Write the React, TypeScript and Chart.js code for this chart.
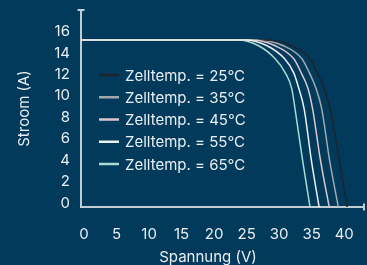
import React, { useEffect, useRef } from 'react';
import { Chart, registerables } from 'chart.js';

Chart.register(...registerables);

// Legend labels / series
const seriesLabels = ['Zelltemp. = 25°C', 'Zelltemp. = 35°C', 'Zelltemp. = 45°C', 'Zelltemp. = 55°C', 'Zelltemp. = 65°C'];
const seriesColors = ['#1d242b', '#a3a8aa', '#dcc7cc', '#eceff0', '#a8dad2'];

// Current levels (A) shared by all curves
const currentA = [15.6, 15.6, 15.6, 15.06, 13.84, 12.53, 11.04, 9.17, 4.4, 0];

// Voltage (V) at each current level, per cell temperature
const voltage25 = [0, 18, 28.3, 32.4, 35.2, 36.3, 37.4, 38.3, 39.7, 40.9];
const voltage35 = [0, 18, 27.2, 31.1, 33.95, 35.1, 36.15, 37.0, 38.2, 39.55];
const voltage45 = [0, 18, 26.3, 29.85, 32.7, 33.85, 34.9, 35.6, 36.8, 38.15];
const voltage55 = [0, 18, 25.2, 28.6, 31.3, 32.7, 33.5, 34.3, 35.4, 36.6];
const voltage65 = [0, 18, 24.15, 27.3, 29.85, 31.4, 32.4, 32.9, 34.05, 35.2];

const xTicks = [0, 5, 10, 15, 20, 25, 30, 35, 40];
const yTicks = [0, 2, 4, 6, 8, 10, 12, 14, 16];

const xTitle = 'Spannung (V)';
const yTitle = 'Stroom (A)';

const BG = '#023a5c';
const TEXT = '#e9eef2';
const AXIS = '#c2ccd3';
const FONT = 'Inter, "Noto Sans", sans-serif';

export default function App() {
  const ref = useRef<HTMLCanvasElement | null>(null);

  useEffect(() => {
    document.body.style.margin = '0';
    document.body.style.background = BG;
    const canvas = ref.current;
    if (!canvas) return;

    const voltages = [voltage25, voltage35, voltage45, voltage55, voltage65];
    const drawOrder = [2, 3, 1, 0, 4];

    const datasets = voltages.map((vs, i) => ({
      label: seriesLabels[i],
      data: vs.map((v, k) => ({ x: v, y: currentA[k] })),
      borderColor: seriesColors[i],
      backgroundColor: seriesColors[i],
      borderWidth: 1.5,
      pointRadius: 0,
      fill: false,
      cubicInterpolationMode: 'monotone' as const,
      order: drawOrder[i],
    }));

    const decor = {
      id: 'decor',
      beforeDraw(chart: any) {
        const { ctx, width, height } = chart;
        ctx.save();
        ctx.fillStyle = BG;
        ctx.fillRect(0, 0, width, height);
        ctx.restore();
      },
      afterDraw(chart: any) {
        const { ctx, chartArea } = chart;
        ctx.save();
        // axis end caps
        ctx.strokeStyle = AXIS;
        ctx.lineWidth = 2;
        ctx.beginPath();
        ctx.moveTo(chartArea.left - 3.5, chartArea.top);
        ctx.lineTo(chartArea.left + 3.5, chartArea.top);
        ctx.moveTo(chartArea.right, chartArea.bottom - 3.5);
        ctx.lineTo(chartArea.right, chartArea.bottom + 3.5);
        ctx.stroke();

        // legend inside chart area
        ctx.font = `15px ${FONT}`;
        ctx.textBaseline = 'middle';
        ctx.textAlign = 'left';
        const x0 = chartArea.left + 18;
        const y0 = 75;
        const step = 22.25;
        seriesLabels.forEach((lab, i) => {
          const y = y0 + i * step;
          ctx.strokeStyle = seriesColors[i];
          ctx.lineWidth = 2.5;
          ctx.beginPath();
          ctx.moveTo(x0, y);
          ctx.lineTo(x0 + 20, y);
          ctx.stroke();
          ctx.fillStyle = TEXT;
          ctx.fillText(lab, x0 + 26, y + 1);
        });

        // x axis title
        ctx.textAlign = 'center';
        ctx.fillStyle = TEXT;
        ctx.fillText(xTitle, 208, 257);
        ctx.restore();
      },
    };

    const chart = new Chart(canvas, {
      type: 'line',
      data: { datasets },
      options: {
        animation: false,
        responsive: false,
        maintainAspectRatio: false,
        layout: { padding: { top: 10, right: 3, left: 0, bottom: 0 } },
        plugins: {
          legend: { display: false },
          tooltip: { enabled: false },
        },
        scales: {
          x: {
            type: 'linear',
            min: 0,
            max: 43.5,
            afterBuildTicks: (s: any) => {
              s.ticks = xTicks.map((v) => ({ value: v }));
            },
            afterFit: (s: any) => {
              s.height = 58;
              s.paddingLeft = 0;
              s.paddingRight = 0;
            },
            grid: { display: false, drawTicks: false },
            border: { display: true, color: AXIS, width: 2 },
            ticks: {
              color: TEXT,
              font: { size: 15, family: FONT },
              padding: 18,
              labelOffset: 3,
              maxRotation: 0,
              autoSkip: false,
            },
          },
          y: {
            type: 'linear',
            min: 0,
            max: 18.4,
            afterBuildTicks: (s: any) => {
              s.ticks = yTicks.map((v) => ({ value: v }));
            },
            afterFit: (s: any) => {
              s.width = 81;
              s.paddingTop = 0;
              s.paddingBottom = 0;
            },
            grid: { display: false, drawTicks: false },
            border: { display: true, color: AXIS, width: 2 },
            ticks: {
              color: TEXT,
              font: { size: 15, family: FONT },
              padding: 11,
              labelOffset: -4,
              autoSkip: false,
            },
            title: {
              display: true,
              text: yTitle,
              color: TEXT,
              font: { size: 15, family: FONT },
              padding: { top: 15, bottom: 0 },
            },
          },
        },
      },
      plugins: [decor],
    });

    return () => chart.destroy();
  }, []);

  return (
    <div style={{ width: 367, height: 265, background: BG }}>
      <canvas ref={ref} width={367} height={265} style={{ display: 'block', width: 367, height: 265 }} />
    </div>
  );
}
